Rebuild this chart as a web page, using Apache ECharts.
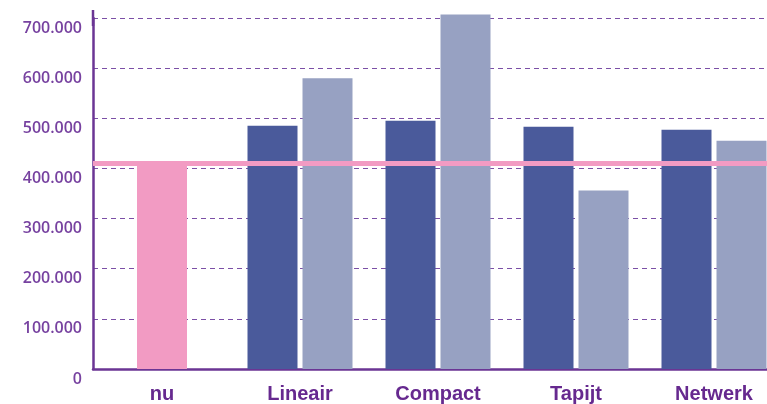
<!DOCTYPE html>
<html style="background-color: #fff;">
<head>
<meta charset="utf-8">
<script src="https://cdn.jsdelivr.net/npm/echarts@6/dist/echarts.min.js"></script>
<style>
  html, body { margin: 0; padding: 0; background: #fff; overflow: hidden; }
  /* the chart runs past the right edge of the window, as in the original */
  #container { width: 783px; height: 404px; }
</style>
</head>
<body>
<div id="container"></div>
<script type="text/javascript">
// categories and values
var categories = ['nu', 'Lineair', 'Compact', 'Tapijt', 'Netwerk'];
var nuValues = [411000, '-', '-', '-', '-'];
var darkValues = ['-', 485000, 495000, 483000, 477000];
var lightValues = ['-', 580000, 707000, 356000, 455000];
var baseLine = 411000;   // roze lijn = huidige situatie
var yTicks = { min: 0, max: 700000, interval: 100000 };

var purple = '#6b3594';

function fmt(v) {
    if (v === 0) return '0';
    return (v / 1000) + '.000';
}

var dom = document.getElementById('container');
var myChart = echarts.init(dom);

var option = {
    animation: false,
    grid: { left: 93, top: 18, bottom: 33, right: 0 },
    xAxis: [
        {
            type: 'category',
            data: categories,
            axisLine: { lineStyle: { color: purple, width: 2.5 } },
            axisTick: { show: false },
            axisLabel: {
                color: '#66298f',
                fontFamily: 'Liberation Sans',
                fontWeight: 'bold',
                fontSize: 20,
                margin: 15
            }
        },
        {
            type: 'category',
            data: categories,
            show: false
        }
    ],
    yAxis: {
        type: 'value',
        min: yTicks.min,
        max: yTicks.max,
        interval: yTicks.interval,
        axisLine: {
            show: true,
            symbol: ['none', 'rect'],
            symbolSize: [2.5, 16],
            lineStyle: { color: purple, width: 2.5 }
        },
        axisTick: { show: false },
        axisLabel: {
            formatter: fmt,
            color: '#7742a0',
            fontFamily: 'Open Sans',
            fontWeight: 600,
            fontSize: 16,
            margin: 11,
            verticalAlign: 'top',
            lineHeight: 16,
            padding: [2, 0, 0, 0]
        },
        splitLine: {
            lineStyle: { color: '#7b4fa6', width: 1, type: [5, 4] }
        }
    },
    series: [
        {
            name: 'nu',
            type: 'bar',
            xAxisIndex: 1,
            data: nuValues,
            barWidth: 50,
            itemStyle: { color: '#f29bc3' },
            markLine: {
                silent: true,
                symbol: 'none',
                label: { show: false },
                lineStyle: { color: '#f29bc3', width: 5, type: 'solid' },
                data: [{ yAxis: baseLine }]
            }
        },
        {
            name: 'donker',
            type: 'bar',
            data: darkValues,
            barWidth: 50,
            barGap: '10%',
            clip: false,
            itemStyle: { color: '#4a5a9b' }
        },
        {
            name: 'licht',
            type: 'bar',
            data: lightValues,
            barWidth: 50,
            barGap: '10%',
            clip: false,
            itemStyle: { color: '#97a1c2' }
        }
    ]
};

myChart.setOption(option);
</script>
</body>
</html>
